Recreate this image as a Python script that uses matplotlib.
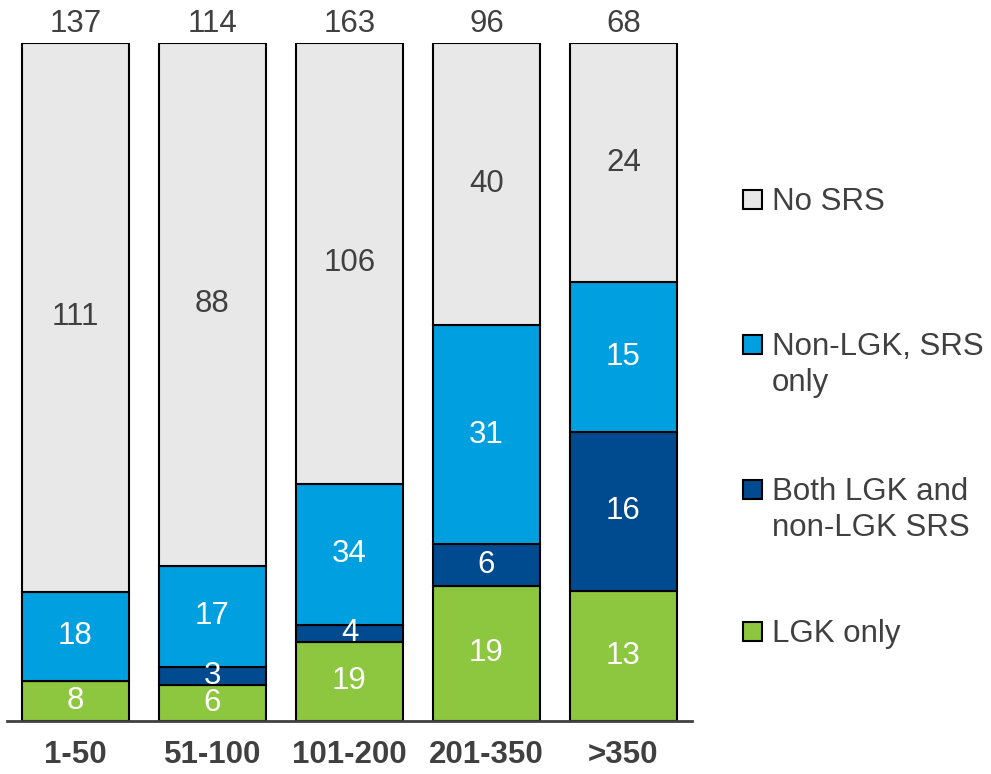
import numpy as np
import matplotlib.pyplot as plt
from matplotlib.patches import Rectangle

plt.rcParams['font.family'] = ['Liberation Sans', 'DejaVu Sans']

categories = ["1-50", "51-100", "101-200", "201-350", ">350"]
series_names = ["LGK only", "Both LGK and\nnon-LGK SRS", "Non-LGK, SRS\nonly", "No SRS"]
lgk_only = [8, 6, 19, 19, 13]
both = [0, 3, 4, 6, 16]
non_lgk = [18, 17, 34, 31, 15]
no_srs = [111, 88, 106, 40, 24]
colors = ["#8DC63F", "#004A8F", "#009FDF", "#E8E8E8"]
label_colors = ["white", "white", "white", "#404040"]

series = [lgk_only, both, non_lgk, no_srs]
totals = np.sum(series, axis=0)

fig = plt.figure(figsize=(9.91, 7.74), dpi=100)
W, H = 991, 774
ax = fig.add_axes([7 / W, (H - 720.5) / H, (692 - 7) / W, (720.5 - 43) / H])

x = np.arange(len(categories))
bottom = np.zeros(len(categories))
for vals, col, lc in zip(series, colors, label_colors):
    pct = np.array(vals) / totals * 100
    ax.bar(x, pct, 0.78, bottom=bottom, color=col, edgecolor="black", linewidth=1.5)
    for xi, v, p, b in zip(x, vals, pct, bottom):
        if v > 0:
            ax.text(xi, b + p / 2, str(v), ha="center", va="center", fontsize=22.5, color=lc)
    bottom += pct

for xi, t in zip(x, totals):
    ax.text(xi, 100.6, str(t), ha="center", va="bottom", fontsize=22.5, color="#404040")

ax.set_xlim(-0.5, 4.5)
ax.set_ylim(0, 100)
ax.set_yticks([])
ax.set_xticks(x)
ax.set_xticklabels(categories, fontsize=22.5, fontweight="bold", color="#404040")
ax.tick_params(axis="x", length=0, pad=14)
for s in ["top", "right", "left"]:
    ax.spines[s].set_visible(False)
ax.spines["bottom"].set_color("#404040")
ax.spines["bottom"].set_linewidth(2)

# legend drawn by hand, top to bottom
leg_tops = [190, 335, 480, 622]
for name, col, top in zip(series_names[::-1], colors[::-1], leg_tops):
    fig.patches.append(Rectangle((743 / W, (H - top - 19) / H), 19 / W, 19 / H,
                                 transform=fig.transFigure, facecolor=col,
                                 edgecolor="black", linewidth=1.5))
    fig.text(772 / W, (H - top + 3) / H, name, ha="left", va="top", fontsize=22.5,
             color="#404040", linespacing=1.25)

fig.savefig("out.png", dpi=100)
